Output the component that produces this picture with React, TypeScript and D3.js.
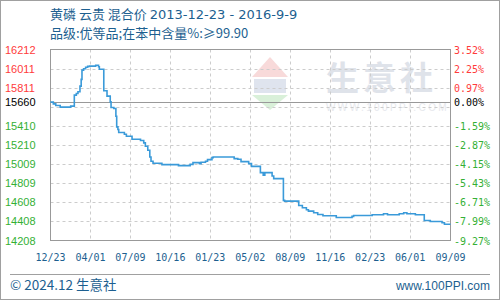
import React from "react";
import * as d3 from "d3";

const titleCjk = "黄磷 云贵 混合价 ";
const titleDates = "2013-12-23 - 2016-9-9";
const titleLine2 = "品级:优等品;在苯中含量%:≥99.90";
const footerLeft = "© 2024.12 生意社";
const footerRight = "www.100PPI.com";

const baseValue = 15660;
const baseLabel = "0.00%";
const gridValues = [16212, 16011, 15811, 15610, 15410, 15210, 15009, 14809, 14608, 14408, 14208];
const leftLabels = ["16212", "16011", "15811", "", "15410", "15210", "15009", "14809", "14608", "14408", "14208"];
const rightLabels = ["3.52%", "2.25%", "0.97%", "", "-1.59%", "-2.87%", "-4.15%", "-5.43%", "-6.71%", "-7.99%", "-9.27%"];

const xTickDates = [
  "2013-12-23", "2014-04-01", "2014-07-09", "2014-10-16", "2015-01-23", "2015-05-02",
  "2015-08-09", "2015-11-16", "2016-02-23", "2016-06-01", "2016-09-09",
];
const xTickLabels = ["12/23", "04/01", "07/09", "10/16", "01/23", "05/02", "08/09", "11/16", "02/23", "06/01", "09/09"];

const dates = [
  "2013-12-23", "2013-12-30", "2014-01-05", "2014-01-16", "2014-02-11", "2014-02-20", "2014-02-25",
  "2014-03-01", "2014-03-06", "2014-03-09", "2014-03-11", "2014-03-15", "2014-03-20", "2014-03-25",
  "2014-03-30", "2014-04-14", "2014-04-21", "2014-04-23", "2014-05-04", "2014-05-12", "2014-05-20",
  "2014-05-22", "2014-05-29", "2014-06-03", "2014-06-05", "2014-06-08", "2014-06-10", "2014-06-24",
  "2014-06-29", "2014-07-13", "2014-08-03", "2014-08-11", "2014-08-15", "2014-08-21", "2014-08-26",
  "2014-08-29", "2014-09-03", "2014-09-25", "2014-11-05", "2014-12-04", "2014-12-11", "2014-12-27",
  "2014-12-31", "2015-01-11", "2015-01-16", "2015-01-27", "2015-01-30", "2015-03-23", "2015-04-01",
  "2015-04-09", "2015-04-28", "2015-05-05", "2015-05-27", "2015-06-03", "2015-06-07", "2015-06-25",
  "2015-06-29", "2015-07-23", "2015-07-26", "2015-08-30", "2015-09-08", "2015-09-18", "2015-09-23",
  "2015-10-06", "2015-10-16", "2015-10-29", "2015-12-01", "2016-01-09", "2016-01-13", "2016-02-28",
  "2016-03-27", "2016-04-06", "2016-05-05", "2016-05-16", "2016-05-24", "2016-06-14", "2016-07-06",
  "2016-07-21", "2016-08-19", "2016-08-25", "2016-09-09",
];
const prices = [
  15660, 15642, 15625, 15607, 15618, 15733, 15751,
  15768, 15828, 15899, 15996, 16010, 16025, 16035,
  16038, 16046, 16031, 16004, 15779, 15723, 15663,
  15604, 15593, 15512, 15400, 15372, 15341, 15323,
  15302, 15270, 15257, 15232, 15197, 15155, 15084,
  15039, 15018, 15004, 14994, 15007, 15025, 15015,
  15029, 15039, 15057, 15078, 15084, 15067, 15060,
  15036, 15015, 14986, 14920, 14892, 14920, 14884,
  14857, 14629, 14621, 14576, 14552, 14530, 14516,
  14499, 14481, 14468, 14450, 14461, 14471, 14478,
  14489, 14478, 14489, 14499, 14489, 14478, 14418,
  14408, 14394, 14379, 14379,
];

const W = 500;
const H = 300;
const L = 50.5;
const R = 450.5;
const T = 49.5;
const B = 240.5;

const blueText = "#1d5f90";
const red = "#ff3b3b";
const green = "#34b034";

export default function App() {
  const parse = d3.timeParse("%Y-%m-%d");
  const data = dates.map((d, i) => ({ date: parse(d) as Date, value: prices[i] }));
  const x = d3
    .scaleTime()
    .domain([parse(xTickDates[0]) as Date, parse(xTickDates[xTickDates.length - 1]) as Date])
    .range([L, R]);
  const y = d3.scaleLinear().domain([gridValues[gridValues.length - 1], gridValues[0]]).range([B, T]);
  const line = d3
    .line<{ date: Date; value: number }>()
    .x((d) => x(d.date))
    .y((d) => y(d.value))
    .curve(d3.curveStepAfter);

  const sans = "'Liberation Sans', Arial, sans-serif";
  const dejavu = "'DejaVu Sans', sans-serif";
  const mono = "'DejaVu Sans Mono', monospace";
  const cjk = "'Noto Sans CJK SC', sans-serif";

  return (
    <svg
      width={W}
      height={H}
      style={{ position: "absolute", left: 0, top: 0, background: "#fff" }}
      xmlns="http://www.w3.org/2000/svg"
    >
      <rect x={0} y={0} width={W} height={H} fill="#fff" />
      <rect x={0.5} y={0.5} width={W - 1} height={H - 1} fill="none" stroke="#a0a0a0" />

      {/* watermark */}
      <g>
        <polygon points="252,77 270,57 288,77" fill="#f8dada" />
        <rect x={254} y={79} width={32} height={14} fill="#dfe4ee" />
        <polygon points="252,95 288,95 270,110" fill="#d9f0d9" />
        <text x={326} y={90} fontFamily={cjk} fontSize={33} fontWeight="bold" fill="#dfe3ea" letterSpacing={4}>
          生意社
        </text>
        <text x={326} y={111} fontFamily={sans} fontSize={10} fill="#e6e8ed" letterSpacing={2.4}>
          WWW.100PPI.COM
        </text>
      </g>

      {/* grid */}
      {gridValues.map((v, i) =>
        i === 0 || i === gridValues.length - 1 ? null : (
          <line key={"h" + i} x1={L} x2={R} y1={Math.round(y(v)) + 0.5} y2={Math.round(y(v)) + 0.5} stroke="#cccccc" strokeDasharray="3,3" />
        )
      )}
      {xTickDates.map((d, i) =>
        i === 0 || i === xTickDates.length - 1 ? null : (
          <line key={"v" + i} x1={Math.round(x(parse(d) as Date)) + 0.5} x2={Math.round(x(parse(d) as Date)) + 0.5} y1={T} y2={B} stroke="#cccccc" strokeDasharray="3,3" />
        )
      )}
      <line x1={L} x2={R} y1={Math.round(y(baseValue)) + 0.5} y2={Math.round(y(baseValue)) + 0.5} stroke="#999" />
      <rect x={L} y={T} width={R - L} height={B - T} fill="none" stroke="#999" />

      <path d={line(data) || ""} fill="none" stroke="#3a9ad9" strokeWidth={1.6} />

      {/* left labels */}
      {gridValues.map((v, i) =>
        leftLabels[i] ? (
          <text key={"l" + i} x={5} y={y(v) + 4} fontFamily={sans} fontSize={11} fill={v > baseValue ? red : green}>
            {leftLabels[i]}
          </text>
        ) : null
      )}
      <text x={5} y={y(baseValue) + 4} fontFamily={sans} fontSize={11} fill="#000">
        {String(baseValue)}
      </text>
      {gridValues.map((v, i) =>
        rightLabels[i] ? (
          <text key={"r" + i} x={454} y={y(v) + 4} fontFamily={mono} fontSize={10} fill={v > baseValue ? red : green}>
            {rightLabels[i]}
          </text>
        ) : null
      )}
      <text x={454} y={y(baseValue) + 4} fontFamily={mono} fontSize={10} fill="#000">
        {baseLabel}
      </text>

      {/* x labels */}
      {xTickDates.map((d, i) => (
        <text key={"x" + i} x={x(parse(d) as Date)} y={261} textAnchor="middle" fontFamily={mono} fontSize={10} fill={blueText}>
          {xTickLabels[i]}
        </text>
      ))}

      {/* titles */}
      <text x={50} y={18.5} fontSize={13} fill={blueText}>
        <tspan fontFamily={cjk}>{titleCjk}</tspan>
        <tspan fontFamily={dejavu}>{titleDates}</tspan>
      </text>
      <text x={50} y={37.5} fontFamily={cjk} fontSize={13} fill={blueText}>
        {titleLine2}
      </text>

      {/* footer */}
      <line x1={10} x2={490} y1={274.5} y2={274.5} stroke="#a0a0a0" />
      <text x={10} y={290} fontFamily={cjk} fontSize={13.5} fill={blueText}>
        {footerLeft}
      </text>
      <text x={490} y={289.5} textAnchor="end" fontFamily={sans} fontSize={12} fill={blueText}>
        {footerRight}
      </text>
    </svg>
  );
}
